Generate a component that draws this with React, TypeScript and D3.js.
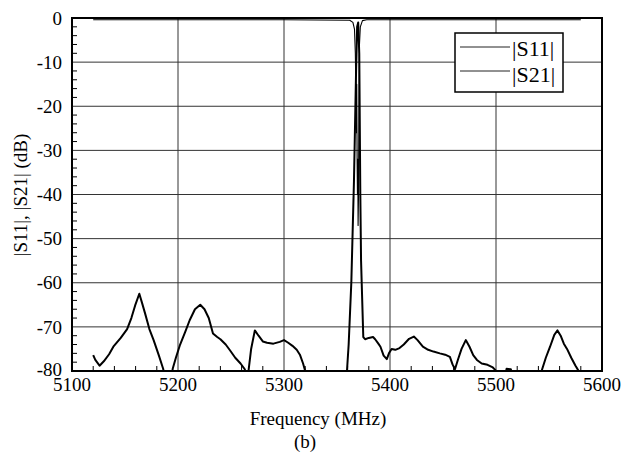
import React from "react";
import * as d3 from "d3";

// ---- data ----
const xTicks = [5100, 5200, 5300, 5400, 5500, 5600];
const yTicks = [0, -10, -20, -30, -40, -50, -60, -70, -80];
const seriesNames = ["|S11|", "|S21|"];

// |S11| : frequency (MHz), dB
const s11Freq = [5120, 5200, 5300, 5362, 5365, 5366.5, 5367.3, 5367.8, 5368.2, 5368.6, 5369, 5369.3, 5369.6, 5369.9, 5370.3, 5370.7, 5371.2, 5372, 5374, 5378, 5450, 5580];
const s11Db = [-0.4, -0.4, -0.4, -0.5, -1.0, -2.5, -8, -16, -26, -15, -33, -40, -32, -47, -40, -20, -6, -2, -0.6, -0.4, -0.4, -0.4];

// |S21| : frequency (MHz), dB (values below -80 leave the plot)
const s21Freq = [
  5120, 5122, 5126, 5130, 5135, 5139, 5146, 5152, 5156, 5159.5, 5163.5, 5166, 5169, 5173, 5177, 5182, 5186, 5189,
  5193, 5195, 5198, 5202, 5207, 5211, 5216, 5221, 5225, 5229, 5233, 5237, 5240, 5245, 5249, 5254, 5259, 5263, 5265,
  5266.5, 5269, 5272.5, 5276, 5280, 5284, 5290, 5296, 5300, 5304, 5308, 5312, 5315, 5318, 5320, 5322,
  5357, 5359.4, 5361, 5363.5, 5366, 5368, 5369, 5370, 5371, 5372, 5372.7, 5374.8,
  5376.5, 5380, 5384, 5386, 5389, 5391, 5394, 5397, 5399, 5401.5, 5405, 5409, 5413, 5418, 5422.5, 5426, 5431, 5436,
  5441, 5447, 5452, 5456.5, 5459, 5461.3, 5464, 5467.5, 5471.5, 5475, 5478.5, 5482, 5486.5, 5492, 5497, 5499.5,
  5501, 5508, 5510, 5514, 5516, 5541, 5543, 5547, 5551, 5555, 5558, 5561, 5564, 5567, 5571, 5575, 5578, 5580,
];
const s21Db = [
  -76.4, -77.5, -78.8, -77.8, -76.2, -74.5, -72.5, -70.5, -68, -65.2, -62.5, -64.5, -67, -70.5, -73, -76.5, -79.5, -83,
  -83, -79.5, -77, -74, -71, -68.5, -66, -65, -66, -68, -71.5, -72.3, -72.8, -74, -75.3, -77, -78.3, -79.6, -82,
  -80, -75, -70.8, -72, -73.3, -73.6, -73.8, -73.4, -73, -73.6, -74.3, -75.2, -76.3, -78.3, -80, -83,
  -83, -80, -74, -60, -37, -12, -2, -1, -8, -40, -55, -72.3,
  -72.8, -72.5, -72.3, -72.8, -73.8, -74.5, -76.5, -77.3, -76, -75, -75.2, -74.8, -74, -72.7, -72.2, -73, -74.5, -75.2,
  -75.6, -76, -76.3, -76.8, -78.5, -79.6, -77.5, -75, -73, -74.5, -76.4, -77.5, -78.3, -78.6, -79.2, -79.8,
  -84, -82, -79.5, -79.6, -82, -83, -80, -77, -74.5, -71.8, -70.8, -72, -73.8, -75, -77, -78.8, -80, -83,
];

const W = 626;
const H = 459;
const M = { left: 72, right: 602, top: 18, bottom: 371 };
const txt = { fontFamily: "Liberation Serif" };

export default function App() {
  const x = d3.scaleLinear().domain([5100, 5600]).range([M.left, M.right]);
  const y = d3.scaleLinear().domain([-80, 0]).range([M.bottom, M.top]);
  const line = d3
    .line<[number, number]>()
    .x((d) => x(d[0]))
    .y((d) => y(d[1]));
  const s11 = s11Freq.map((f, i) => [f, s11Db[i]] as [number, number]);
  const s21 = s21Freq.map((f, i) => [f, s21Db[i]] as [number, number]);

  const xMinor = d3.range(5100, 5601, 20).filter((v) => v % 100 !== 0);
  const yMinor = d3.range(-80, 1, 2).filter((v) => v % 10 !== 0);

  const legX = 455;
  const legY = 33;

  return (
    <svg width={W} height={H} style={{ position: "absolute", left: 0, top: 0, background: "#fff" }}>
      <defs>
        <clipPath id="plot">
          <rect x={M.left} y={M.top} width={M.right - M.left} height={M.bottom - M.top} />
        </clipPath>
      </defs>
      {/* grid */}
      {xTicks.slice(1, -1).map((t) => (
        <line key={"gx" + t} x1={x(t)} x2={x(t)} y1={M.top} y2={M.bottom} stroke="#333" strokeWidth={1} />
      ))}
      {yTicks.slice(1, -1).map((t) => (
        <line key={"gy" + t} x1={M.left} x2={M.right} y1={y(t)} y2={y(t)} stroke="#333" strokeWidth={1} />
      ))}
      {/* minor ticks */}
      {xMinor.map((t) => (
        <line key={"mx" + t} x1={x(t)} x2={x(t)} y1={M.bottom} y2={M.bottom - 5} stroke="#000" strokeWidth={1} />
      ))}
      {yMinor.map((t) => (
        <line key={"my" + t} x1={M.left} x2={M.left + 5} y1={y(t)} y2={y(t)} stroke="#000" strokeWidth={1} />
      ))}
      {/* data */}
      <g clipPath="url(#plot)">
        <path d={line(s21) || ""} fill="none" stroke="#000" strokeWidth={2} strokeLinejoin="round" />
        <path d={line(s11) || ""} fill="none" stroke="#000" strokeWidth={1.1} strokeLinejoin="round" />
      </g>
      {/* frame */}
      <rect x={M.left} y={M.top} width={M.right - M.left} height={M.bottom - M.top} fill="none" stroke="#000" strokeWidth={2} />
      {/* tick labels */}
      {xTicks.map((t) => (
        <text key={"tx" + t} x={x(t)} y={391} textAnchor="middle" fontSize={19} fill="#000" style={txt}>
          {t}
        </text>
      ))}
      {yTicks.map((t) => (
        <text key={"ty" + t} x={62} y={y(t) - (t === -80 ? 2 : 0)} dy="0.35em" textAnchor="end" fontSize={19} fill="#000" style={txt}>
          {t}
        </text>
      ))}
      {/* axis titles */}
      <text x={318} y={425} textAnchor="middle" fontSize={19} fill="#000" style={txt}>
        Frequency (MHz)
      </text>
      <text x={305} y={448} textAnchor="middle" fontSize={19} fill="#000" style={txt}>
        (b)
      </text>
      <text transform={`translate(27,195) rotate(-90)`} textAnchor="middle" fontSize={19} fill="#000" style={txt}>
        |S11|, |S21| (dB)
      </text>
      {/* legend */}
      <rect x={legX} y={legY} width={108} height={59} fill="#fff" stroke="#000" strokeWidth={1.5} />
      {seriesNames.map((n, i) => (
        <g key={n}>
          <line x1={460} x2={510} y1={47 + i * 24} y2={47 + i * 24} stroke="#222" strokeWidth={1} />
          <text x={512} y={56 + i * 26} fontSize={22} fill="#000" style={txt}>
            {n}
          </text>
        </g>
      ))}
    </svg>
  );
}
